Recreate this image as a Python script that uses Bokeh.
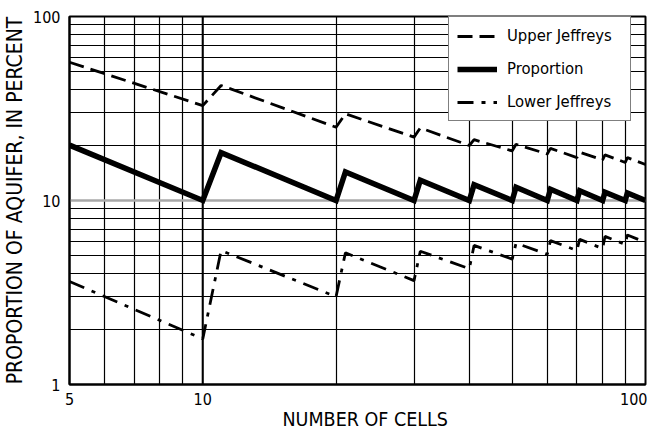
from bokeh.plotting import figure
from bokeh.models import (Range1d, FixedTicker, Span, Legend, LegendItem,
                          PrintfTickFormatter, Title)
from bokeh.embed import file_html
from bokeh.resources import INLINE

# ---- data ----
cells = [5, 10, 11, 20, 21, 30, 31, 40, 41, 50, 51, 60, 61, 70, 71, 80, 81, 90, 91, 100]
proportion = [20.0, 10.0, 18.2, 10.0, 14.3, 10.0, 12.9, 10.0, 12.2, 10.0,
              11.8, 10.0, 11.5, 10.0, 11.3, 10.0, 11.1, 10.0, 11.0, 10.0]
upper_jeffreys = [56.4, 32.8, 42.2, 25.0, 29.6, 22.1, 24.8, 19.9, 21.4, 18.6,
                  20.2, 17.9, 19.2, 17.1, 18.3, 16.6, 17.7, 16.1, 17.1, 15.7]
lower_jeffreys = [3.63, 1.77, 5.35, 3.0, 5.2, 3.67, 5.3, 4.26, 5.7, 4.8,
                  5.86, 5.1, 6.05, 5.35, 6.15, 5.48, 6.38, 5.78, 6.5, 5.92]

x_ticks = [5, 10, 100]
x_grid = [5, 6, 7, 8, 9, 10, 20, 30, 40, 50, 60, 70, 80, 90, 100]
y_ticks = [1, 10, 100]
y_grid = [1, 2, 3, 4, 5, 6, 7, 8, 9, 10, 20, 30, 40, 50, 60, 70, 80, 90, 100]

FONT = "DejaVu Sans Condensed, Roboto, sans-serif"

p = figure(width=647, height=431, x_axis_type="log", y_axis_type="log",
           x_range=Range1d(5, 100), y_range=Range1d(1, 100),
           output_backend="svg", toolbar_location=None,
           min_border_left=67, min_border_right=2, min_border_top=16,
           min_border_bottom=47)
p.background_fill_color = "white"
p.border_fill_color = "white"
p.outline_line_color = "black"
p.outline_line_width = 2

for ax in (p.xaxis[0], p.yaxis[0]):
    ax.major_tick_out = 0
    ax.major_tick_in = 0
    ax.minor_tick_out = 0
    ax.minor_tick_in = 0
    ax.axis_line_color = "black"
    ax.axis_line_width = 2
    ax.major_label_text_font = FONT
    ax.major_label_text_font_size = "16px"
    ax.major_label_text_color = "black"
    ax.formatter = PrintfTickFormatter(format="%d")

p.xaxis.ticker = FixedTicker(ticks=x_ticks, minor_ticks=[])
p.yaxis.ticker = FixedTicker(ticks=y_ticks, minor_ticks=[])
p.xaxis.major_label_standoff = 8
p.yaxis.major_label_standoff = 9

p.yaxis.axis_label = "PROPORTION OF AQUIFER, IN PERCENT"
p.yaxis.axis_label_text_font = FONT
p.yaxis.axis_label_text_font_size = "21px"
p.yaxis.axis_label_text_font_style = "normal"
p.yaxis.axis_label_text_color = "black"
p.yaxis.axis_label_standoff = 3

xt = Title(text="NUMBER OF CELLS", align="left", offset=213,
           text_font=FONT, text_font_size="19.5px", text_font_style="normal",
           text_color="black", standoff=-3)
p.add_layout(xt, "below")

p.xgrid[0].ticker = FixedTicker(ticks=x_grid, minor_ticks=[])
p.ygrid[0].ticker = FixedTicker(ticks=y_grid, minor_ticks=[])
for g in (p.xgrid[0], p.ygrid[0]):
    g.grid_line_color = "black"
    g.grid_line_width = 1.2
    g.grid_line_alpha = 1.0

p.add_layout(Span(location=10, dimension="width", line_color="#a8a8a8",
                  line_width=2.5, level="underlay"))
p.add_layout(Span(location=10, dimension="height", line_color="black",
                  line_width=2, level="underlay"))

r_up = p.line(cells, upper_jeffreys, line_color="black", line_width=2.8,
              line_dash="15 7")
r_prop = p.line(cells, proportion, line_color="black", line_width=5.5,
                line_join="miter")
r_low = p.line(cells, lower_jeffreys, line_color="black", line_width=2.8,
               line_dash="16 8 4 8")

legend = Legend(items=[LegendItem(label="Upper Jeffreys", renderers=[r_up]),
                       LegendItem(label="Proportion", renderers=[r_prop]),
                       LegendItem(label="Lower Jeffreys", renderers=[r_low])],
                location=(379, 263), orientation="vertical")
legend.label_text_font = FONT
legend.label_text_font_size = "16.5px"
legend.label_text_color = "black"
legend.glyph_width = 40
legend.glyph_height = 20
legend.label_height = 21
legend.label_width = 115
legend.label_standoff = 10
legend.spacing = 12
legend.padding = 8
legend.margin = 0
legend.border_line_color = "black"
legend.border_line_width = 1.5
legend.background_fill_color = "white"
legend.background_fill_alpha = 1.0
p.add_layout(legend, "center")

open("out.html", "w").write(file_html(p, INLINE))
